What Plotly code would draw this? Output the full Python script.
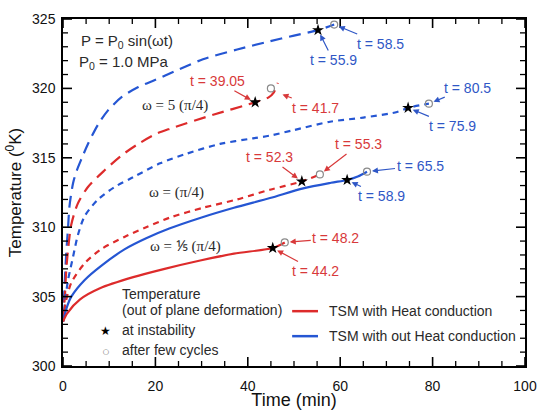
import plotly.graph_objects as go

# ---- data ----
# omega = 5(pi/4), TSM without heat conduction (blue, long dash)
t_bl = [0, 0.3, 0.7, 1.1, 1.4, 2.2, 3.0, 4.1, 5.4, 7.6, 9.7, 12.8, 16.3, 19.9, 24.0, 30.3, 37.7, 44.8, 50.0, 55.2, 58.7]
T_bl = [303.2, 305.5, 308.1, 310.0, 311.5, 313.2, 314.1, 315.0, 316.0, 317.4, 318.4, 319.4, 320.1, 320.6, 321.2, 322.1, 322.8, 323.4, 323.8, 324.2, 324.6]
# omega = 5(pi/4), TSM with heat conduction (red, long dash)
t_rl = [0, 0.4, 0.7, 1.1, 1.8, 3.2, 5.4, 9.0, 12.8, 16.3, 20.0, 23.2, 32.5, 41.6, 44.5, 45.6, 46.5]
T_rl = [303.2, 305.0, 306.9, 308.4, 310.2, 311.7, 312.9, 314.1, 315.2, 316.0, 316.7, 317.1, 318.1, 319.0, 319.35, 319.7, 320.4]
# omega = pi/4, without heat conduction (blue, short dash)
t_bs = [0, 0.5, 1.1, 2.2, 3.2, 4.7, 7.6, 11.2, 15.2, 21.0, 26.8, 34.0, 41.1, 44.8, 50.0, 57.8, 65.0, 72.3, 74.7, 79.2]
T_bs = [303.2, 304.8, 306.2, 307.9, 309.4, 310.8, 312.0, 312.9, 313.6, 314.6, 315.3, 316.0, 316.4, 316.6, 317.0, 317.6, 317.9, 318.3, 318.6, 318.9]
# omega = pi/4, with heat conduction (red, short dash)
t_rs = [0, 0.6, 1.8, 4.7, 8.2, 13.3, 18.0, 23.2, 30.3, 37.7, 44.8, 51.7, 55.6]
T_rs = [303.2, 304.6, 306.0, 307.4, 308.4, 309.3, 310.0, 310.7, 311.4, 312.0, 312.7, 313.3, 313.8]
# omega = 1/5(pi/4), without heat conduction (blue, solid)
t_bso = [0, 0.9, 1.8, 4.7, 8.2, 13.3, 18.0, 23.0, 30.0, 37.0, 44.8, 52.0, 58.0, 61.5, 63.8, 65.8]
T_bso = [303.2, 304.3, 305.0, 306.2, 307.2, 308.4, 309.2, 309.9, 310.7, 311.4, 312.1, 312.8, 313.2, 313.4, 313.65, 314.0]
# omega = 1/5(pi/4), with heat conduction (red, solid)
t_rso = [0, 0.9, 3.7, 8.0, 15.2, 22.0, 29.7, 37.0, 45.4, 48.0]
T_rso = [303.2, 303.8, 304.8, 305.6, 306.4, 307.0, 307.6, 308.1, 308.5, 308.9]

# instability points (stars) and after-few-cycles points (circles)
star_t = [55.2, 41.6, 74.7, 51.7, 61.5, 45.4]
star_T = [324.2, 319.0, 318.6, 313.3, 313.4, 308.5]
circ_t = [58.7, 45.0, 79.2, 55.6, 65.8, 48.0]
circ_T = [324.6, 320.0, 318.9, 313.8, 314.0, 308.9]
star_labels = ["t = 55.9", "t = 39.05", "t = 75.9", "t = 52.3", "t = 58.9", "t = 44.2"]
circ_labels = ["t = 58.5", "t = 41.7", "t = 80.5", "t = 55.3", "t = 65.5", "t = 48.2"]

x_ticks = [0, 20, 40, 60, 80, 100]
y_ticks = [300, 305, 310, 315, 320, 325]
x_minor = [v for v in range(0, 101, 5) if v not in x_ticks]
y_minor = [v for v in range(300, 326) if v not in y_ticks]
X_RANGE = [0, 100]
Y_RANGE = [300, 325]

RED = "#dd2b2b"
BLUE = "#2556d3"
RED_T = "#d8393a"
BLUE_T = "#2f57c6"
DARK = "#2a2a2a"
SANS = "Liberation Sans, Arial, sans-serif"
SERIF = "Liberation Serif, Times New Roman, serif"

W, H = 538, 410
ML, MR, MT, MB = 63, 13, 19, 44
PW, PH = W - ML - MR, H - MT - MB
# data units per pixel (for tick lengths)
XU = (X_RANGE[1] - X_RANGE[0]) / PW
YU = (Y_RANGE[1] - Y_RANGE[0]) / PH

fig = go.Figure()
curves = [
    (t_bl, T_bl, BLUE, "12px,7px"),
    (t_rl, T_rl, RED, "12px,7px"),
    (t_bs, T_bs, BLUE, "6px,5px"),
    (t_rs, T_rs, RED, "6px,5px"),
    (t_bso, T_bso, BLUE, "solid"),
    (t_rso, T_rso, RED, "solid"),
]
for tx, ty, col, dash in curves:
    fig.add_trace(go.Scatter(x=tx, y=ty, mode="lines",
                             line=dict(color=col, width=2.2, dash=dash, shape="spline", smoothing=0.8),
                             showlegend=False, hoverinfo="skip"))

# inward tick marks on all four sides, built from the tick lists
def tick_paths(major_len, minor_len):
    out = []
    for vals, L in ((x_ticks, major_len), (x_minor, minor_len)):
        xs, ys = [], []
        for v in vals:
            xs += [v, v, None, v, v, None]
            ys += [Y_RANGE[0], Y_RANGE[0] + L * YU, None, Y_RANGE[1], Y_RANGE[1] - L * YU, None]
        out.append((xs, ys))
    for vals, L in ((y_ticks, major_len), (y_minor, minor_len)):
        xs, ys = [], []
        for v in vals:
            xs += [X_RANGE[0], X_RANGE[0] + L * XU, None, X_RANGE[1], X_RANGE[1] - L * XU, None]
            ys += [v, v, None, v, v, None]
        out.append((xs, ys))
    return out

for k, (xs, ys) in enumerate(tick_paths(9, 5)):
    fig.add_trace(go.Scatter(x=xs, y=ys, mode="lines", line=dict(color="black", width=1.6 if k % 2 == 0 else 1.3),
                             showlegend=False, hoverinfo="skip", cliponaxis=False))

fig.add_trace(go.Scatter(x=circ_t, y=circ_T, mode="markers",
                         marker=dict(symbol="circle-open", size=7, color="#8a8a8a", line=dict(width=1.2)),
                         showlegend=False))
fig.add_trace(go.Scatter(x=star_t, y=star_T, mode="markers",
                         marker=dict(symbol="star", size=9, color="black"),
                         showlegend=False))

# arrow label offsets (pixels) : star labels then circle labels
star_off = [(15, 30), (-38, -21), (44, 18), (-32, -24), (34, 16), (43, 23)]
circ_off = [(46, 19), (38, 15), (39, -16), (39, -30), (53, -6), (51, -4)]
lab_col = [BLUE_T, RED_T, BLUE_T, RED_T, BLUE_T, RED_T]

anns = []
for i in range(6):
    anns.append(dict(x=star_t[i], y=star_T[i], text=star_labels[i], ax=star_off[i][0], ay=star_off[i][1],
                     showarrow=True, arrowhead=2, arrowsize=1, arrowwidth=1.2, arrowcolor=lab_col[i],
                     standoff=5, font=dict(family=SANS, size=14, color=lab_col[i])))
    tx, ty = circ_t[i], circ_T[i]
    if i == 1:
        tx, ty = 46.5, 319.7
    anns.append(dict(x=tx, y=ty, text=circ_labels[i], ax=circ_off[i][0], ay=circ_off[i][1],
                     showarrow=True, arrowhead=2, arrowsize=1, arrowwidth=1.2, arrowcolor=lab_col[i],
                     standoff=5, font=dict(family=SANS, size=14, color=lab_col[i])))

def txt(x, y, s, fam=SANS, size=14, color=DARK, xa="left"):
    anns.append(dict(x=x, y=y, text=s, showarrow=False, xanchor=xa, yanchor="middle",
                     font=dict(family=fam, size=size, color=color)))

txt(3.4, 323.4, "P = P<sub>0</sub> sin(ωt)", size=15)
txt(3.0, 321.9, "P<sub>0</sub> = 1.0 MPa", size=15)
txt(16.7, 318.8, "ω = 5 (π/4)", fam=SERIF, size=15)
txt(18.2, 312.5, "ω = (π/4)", fam=SERIF, size=15)
txt(18.4, 308.6, "ω = ⅕ (π/4)", fam=SERIF, size=15)
txt(12.3, 305.2, "Temperature", size=14)
txt(12.3, 304.0, "(out of plane deformation)", size=14)
txt(9.3, 302.5, "★", size=12, color="black", xa="center")
txt(12.3, 302.6, "at instability", size=14)
txt(9.3, 301.05, "○", size=13, color="#8a8a8a", xa="center")
txt(12.3, 301.15, "after few cycles", size=14)
txt(57.1, 303.95, "TSM with Heat conduction", size=14)
txt(57.1, 302.15, "TSM with out Heat conduction", size=14)

shapes = [
    dict(type="line", x0=49.6, x1=55.2, y0=303.95, y1=303.95, line=dict(color=RED, width=2.5)),
    dict(type="line", x0=49.6, x1=55.2, y0=302.15, y1=302.15, line=dict(color=BLUE, width=2.5)),
]

base = dict(showline=True, linecolor="black", linewidth=1.5, mirror=True,
            ticks="", showgrid=False, zeroline=False, automargin=False)

fig.update_layout(
    width=W, height=H,
    margin=dict(l=ML, r=MR, t=MT, b=MB, autoexpand=False),
    paper_bgcolor="white", plot_bgcolor="white",
    annotations=anns, shapes=shapes,
    xaxis=dict(range=X_RANGE, tickmode="array", tickvals=x_ticks, **base, ticklabelstandoff=6,
               tickfont=dict(family=SANS, size=14, color="#111"),
               title=dict(text="Time (min)", font=dict(family=SANS, size=18, color="#111"), standoff=3)),
    yaxis=dict(range=Y_RANGE, tickmode="array", tickvals=y_ticks, **base, ticklabelstandoff=3,
               tickfont=dict(family=SANS, size=14, color="#111"),
               title=dict(text="Temperature (<sup>0</sup>K)", font=dict(family=SANS, size=17, color="#111"), standoff=6)),
)

fig.write_html("out.html")
